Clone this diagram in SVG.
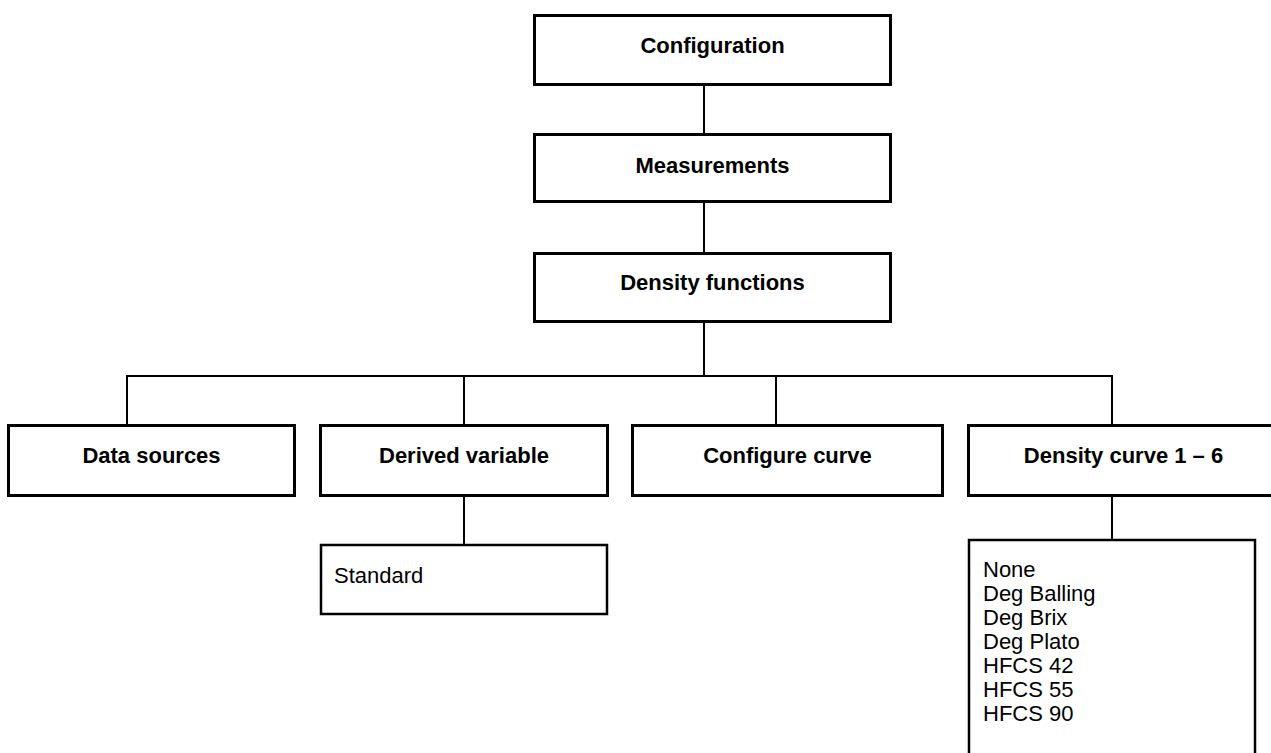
<svg xmlns="http://www.w3.org/2000/svg" width="1271" height="753" viewBox="0 0 1271 753">
  <style>
    .box { fill: #ffffff; stroke: #000000; stroke-width: 3; }
    .list { fill: #ffffff; stroke: #000000; stroke-width: 2.5; }
    .title { font-family: "Liberation Sans", Arial, sans-serif; font-size: 22px; font-weight: bold; fill: #000000; text-anchor: middle; }
    .item { font-family: "Liberation Sans", Arial, sans-serif; font-size: 22px; fill: #000000; }
    .conn line { stroke: #000000; stroke-width: 2; }
  </style>
  <rect width="1271" height="753" fill="#ffffff"/>

  <g id="connectors" class="conn">
    <line x1="704" y1="86" x2="704" y2="133"/>
    <line x1="704" y1="203" x2="704" y2="252"/>
    <line x1="704" y1="323" x2="704" y2="376"/>
    <line x1="126" y1="376" x2="1113" y2="376"/>
    <line x1="127" y1="376" x2="127" y2="424"/>
    <line x1="464" y1="376" x2="464" y2="424"/>
    <line x1="776" y1="376" x2="776" y2="424"/>
    <line x1="1112" y1="376" x2="1112" y2="424"/>
    <line x1="464" y1="497" x2="464" y2="544"/>
    <line x1="1112" y1="497" x2="1112" y2="539"/>
  </g>

  <g id="configuration">
    <rect class="box" x="534.5" y="15.5" width="356" height="69"/>
    <text class="title" x="712.5" y="53">Configuration</text>
  </g>
  <g id="measurements">
    <rect class="box" x="534.5" y="134.5" width="356" height="67"/>
    <text class="title" x="712.5" y="173">Measurements</text>
  </g>
  <g id="density-functions">
    <rect class="box" x="534.5" y="253.5" width="356" height="68"/>
    <text class="title" x="712.5" y="290">Density functions</text>
  </g>

  <g id="data-sources">
    <rect class="box" x="8.5" y="425.5" width="286" height="70"/>
    <text class="title" x="151.5" y="463">Data sources</text>
  </g>
  <g id="derived-variable">
    <rect class="box" x="320.5" y="425.5" width="287" height="70"/>
    <text class="title" x="464" y="463">Derived variable</text>
  </g>
  <g id="configure-curve">
    <rect class="box" x="632.5" y="425.5" width="310" height="70"/>
    <text class="title" x="787.5" y="463">Configure curve</text>
  </g>
  <g id="density-curve">
    <rect class="box" x="968.5" y="425.5" width="312" height="70"/>
    <text class="title" x="1123.5" y="463">Density curve 1 – 6</text>
  </g>

  <g id="standard">
    <rect class="list" x="321" y="545" width="286" height="69"/>
    <text class="item" x="334" y="583">Standard</text>
  </g>
  <g id="curve-options">
    <rect class="list" x="969" y="540" width="286" height="230"/>
    <text class="item" x="983" y="577">None</text>
    <text class="item" x="983" y="601">Deg Balling</text>
    <text class="item" x="983" y="625">Deg Brix</text>
    <text class="item" x="983" y="649">Deg Plato</text>
    <text class="item" x="983" y="673">HFCS 42</text>
    <text class="item" x="983" y="697">HFCS 55</text>
    <text class="item" x="983" y="721">HFCS 90</text>
  </g>
</svg>
